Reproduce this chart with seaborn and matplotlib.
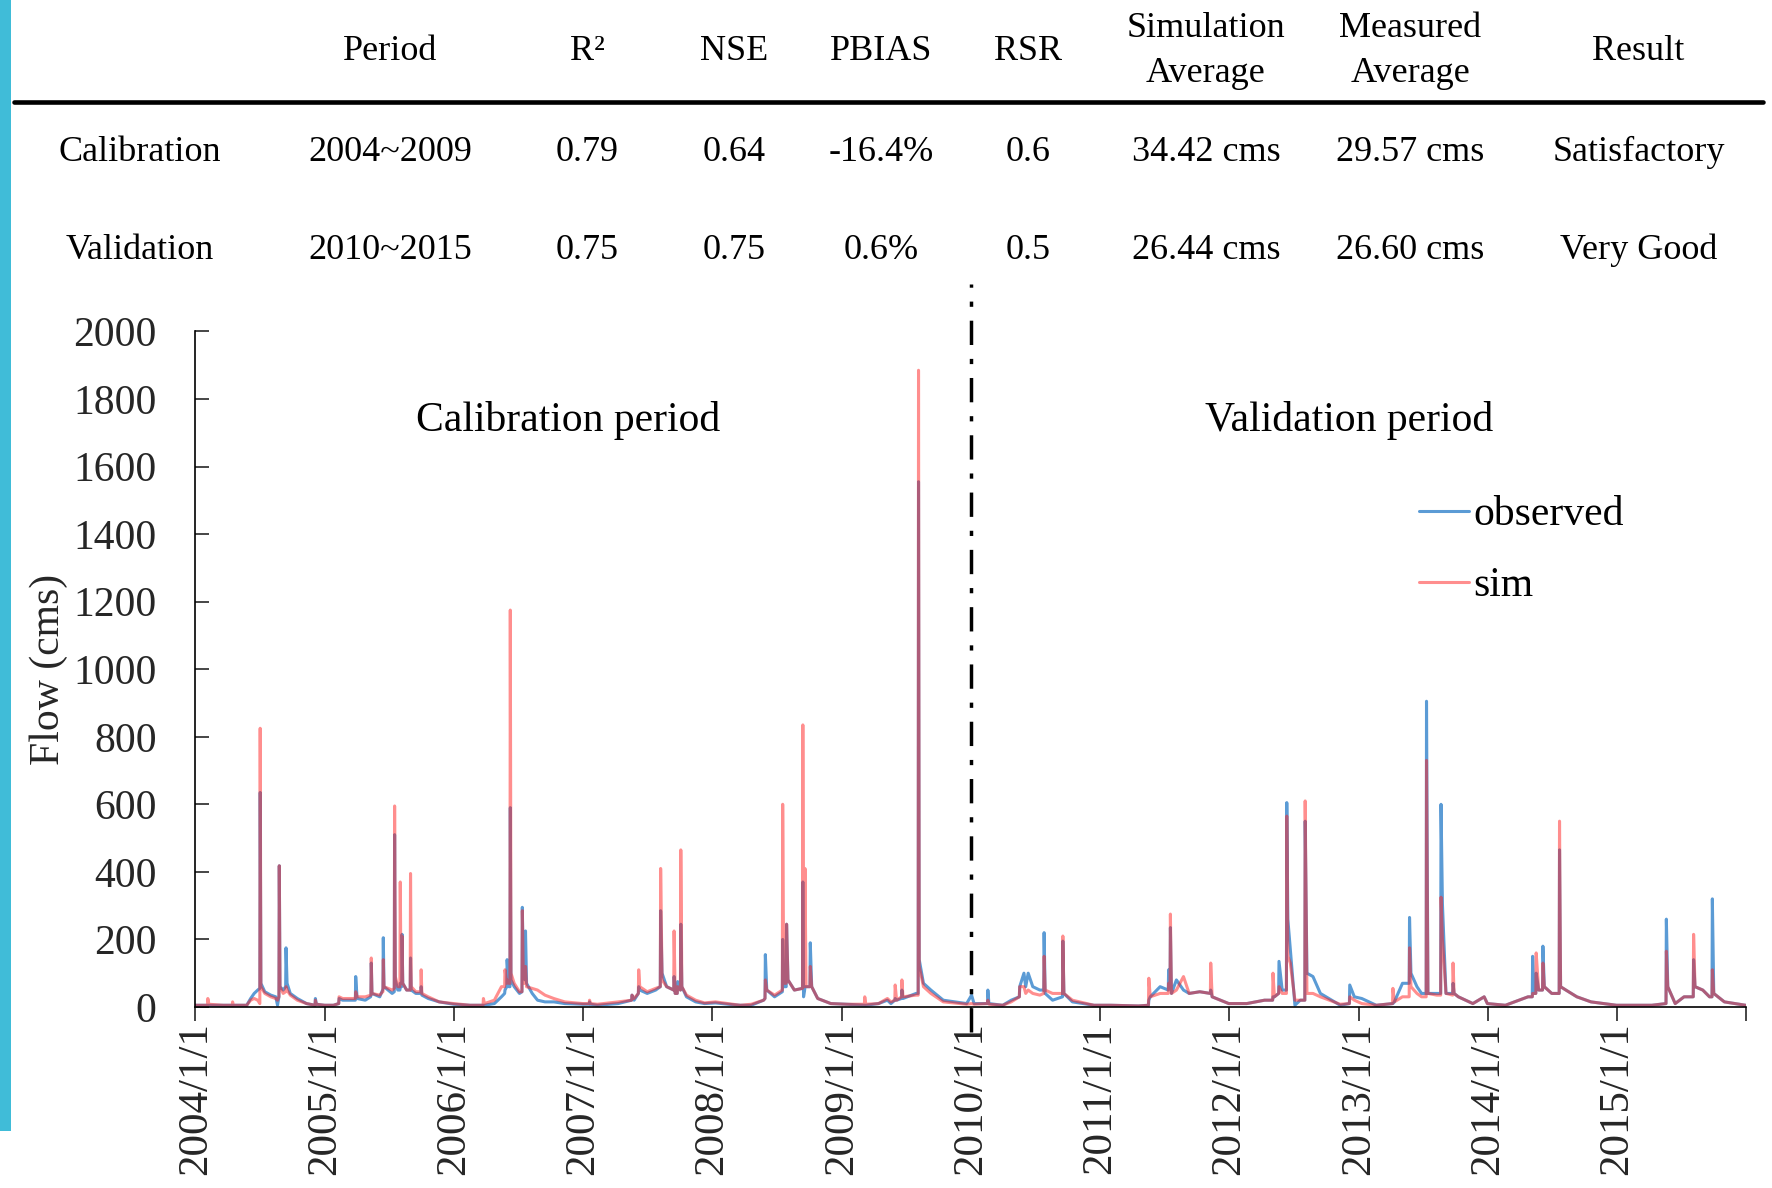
"""
Observed vs simulated daily flow, 2004-2015, with calibration / validation
statistics table above the hydrograph.
"""

import pandas as pd
import matplotlib.pyplot as plt
import matplotlib.ticker as mticker
from matplotlib.patches import Rectangle
import seaborn as sns

# ---------------------------------------------------------------------------
# Data - one line per year, lists aligned
# ---------------------------------------------------------------------------
DATES = [
    # 2004
    "2004-01-01", "2004-02-04", "2004-02-05", "2004-02-08", "2004-03-20", "2004-04-14",
    "2004-04-15", "2004-04-17", "2004-05-25", "2004-06-05", "2004-06-15", "2004-06-25",
    "2004-07-01", "2004-07-02", "2004-07-04", "2004-07-15", "2004-08-01", "2004-08-15",
    "2004-08-20", "2004-08-24", "2004-08-25", "2004-08-27", "2004-09-05", "2004-09-12",
    "2004-09-13", "2004-09-16", "2004-09-25", "2004-10-15", "2004-11-10", "2004-12-04",
    "2004-12-05", "2004-12-08", "2004-12-31",
    # 2005
    "2005-01-25", "2005-02-09", "2005-02-10", "2005-02-20", "2005-03-25", "2005-03-28",
    "2005-03-29", "2005-04-02", "2005-04-25", "2005-05-10", "2005-05-11", "2005-05-12",
    "2005-05-14", "2005-06-05", "2005-06-13", "2005-06-14", "2005-06-15", "2005-06-17",
    "2005-07-10", "2005-07-16", "2005-07-17", "2005-07-19", "2005-07-26", "2005-08-01",
    "2005-08-02", "2005-08-04", "2005-08-06", "2005-08-07", "2005-08-09", "2005-08-20",
    "2005-08-30", "2005-08-31", "2005-09-02", "2005-09-15", "2005-09-29", "2005-09-30",
    "2005-10-02", "2005-10-20", "2005-11-20", "2005-12-31",
    # 2006
    "2006-02-15", "2006-03-24", "2006-03-25", "2006-03-28", "2006-04-25", "2006-05-15",
    "2006-05-24", "2006-05-25", "2006-05-30", "2006-05-31", "2006-06-05", "2006-06-08",
    "2006-06-09", "2006-06-11", "2006-06-20", "2006-07-05", "2006-07-12", "2006-07-13",
    "2006-07-16", "2006-07-21", "2006-07-22", "2006-07-25", "2006-08-10", "2006-08-25",
    "2006-09-15", "2006-10-10", "2006-11-10", "2006-12-31",
    # 2007
    "2007-01-18", "2007-01-19", "2007-01-22", "2007-02-10", "2007-04-10", "2007-05-18",
    "2007-05-19", "2007-05-25", "2007-06-06", "2007-06-07", "2007-06-10", "2007-07-01",
    "2007-07-25", "2007-08-07", "2007-08-08", "2007-08-12", "2007-08-25", "2007-09-14",
    "2007-09-15", "2007-09-18", "2007-09-24", "2007-09-25", "2007-10-03", "2007-10-04",
    "2007-10-07", "2007-10-20", "2007-11-15", "2007-12-10",
    # 2008
    "2008-01-10", "2008-02-15", "2008-03-20", "2008-04-20", "2008-05-25", "2008-05-29",
    "2008-05-30", "2008-06-03", "2008-06-25", "2008-07-10", "2008-07-17", "2008-07-18",
    "2008-07-21", "2008-07-28", "2008-07-29", "2008-08-02", "2008-08-20", "2008-09-12",
    "2008-09-13", "2008-09-15", "2008-09-18", "2008-09-19", "2008-09-22", "2008-10-03",
    "2008-10-04", "2008-10-08", "2008-10-25", "2008-12-01",
    # 2009
    "2009-01-15", "2009-03-06", "2009-03-07", "2009-03-10", "2009-04-15", "2009-05-10",
    "2009-05-20", "2009-05-31", "2009-06-01", "2009-06-05", "2009-06-19", "2009-06-20",
    "2009-06-23", "2009-07-30", "2009-08-05", "2009-08-06", "2009-08-08", "2009-08-20",
    "2009-09-10", "2009-10-15", "2009-12-20",
    # 2010
    "2010-01-03", "2010-01-10", "2010-02-17", "2010-02-18", "2010-02-21", "2010-04-01",
    "2010-04-25", "2010-05-18", "2010-05-19", "2010-05-31", "2010-06-05", "2010-06-12",
    "2010-06-25", "2010-07-15", "2010-07-26", "2010-07-27", "2010-07-30", "2010-08-20",
    "2010-09-17", "2010-09-18", "2010-09-21", "2010-10-15", "2010-12-15",
    # 2011
    "2011-02-01", "2011-04-20", "2011-05-18", "2011-05-19", "2011-05-23", "2011-06-20",
    "2011-07-13", "2011-07-14", "2011-07-18", "2011-07-19", "2011-07-22", "2011-08-05",
    "2011-08-25", "2011-09-10", "2011-10-10", "2011-11-09", "2011-11-10", "2011-11-14",
    "2011-12-31",
    # 2012
    "2012-02-20", "2012-04-10", "2012-05-03", "2012-05-04", "2012-05-08", "2012-05-20",
    "2012-05-21", "2012-05-30", "2012-06-11", "2012-06-12", "2012-06-15", "2012-06-22",
    "2012-07-05", "2012-07-20", "2012-08-02", "2012-08-03", "2012-08-08", "2012-08-25",
    "2012-09-15", "2012-11-10", "2012-12-06", "2012-12-07", "2012-12-20",
    # 2013
    "2013-01-10", "2013-02-20", "2013-04-07", "2013-04-08", "2013-04-12", "2013-05-05",
    "2013-05-24", "2013-05-25", "2013-05-29", "2013-06-15", "2013-06-28", "2013-07-11",
    "2013-07-12", "2013-07-16", "2013-08-10", "2013-08-21", "2013-08-22", "2013-08-26",
    "2013-09-05", "2013-09-24", "2013-09-25", "2013-09-28", "2013-10-10", "2013-11-20",
    "2013-12-22", "2013-12-31",
    # 2014
    "2014-02-20", "2014-04-25", "2014-05-07", "2014-05-08", "2014-05-11", "2014-05-17",
    "2014-05-18", "2014-05-25", "2014-06-05", "2014-06-06", "2014-06-10", "2014-07-01",
    "2014-07-22", "2014-07-23", "2014-07-26", "2014-08-10", "2014-09-10", "2014-10-20",
    "2014-12-31",
    # 2015
    "2015-04-10", "2015-05-20", "2015-05-21", "2015-05-25", "2015-06-15", "2015-07-10",
    "2015-08-05", "2015-08-06", "2015-08-10", "2015-09-01", "2015-09-20", "2015-09-27",
    "2015-09-28", "2015-10-02", "2015-11-01", "2015-12-31",
]

OBSERVED = [
    # 2004
    5, 5, 5, 5, 5, 5, 3, 5, 5, 25, 40, 50, 55, 635, 70, 45, 35, 30, 5, 30,
    418, 60, 50, 60, 175, 70, 40, 25, 10, 5, 25, 8, 5,
    # 2005
    5, 10, 25, 20, 20, 20, 90, 25, 20, 30, 35, 130, 40, 30, 50, 55, 205, 60, 40, 45,
    510, 80, 50, 50, 70, 60, 60, 215, 70, 50, 50, 145, 50, 40, 40, 60, 35, 25, 15, 8,
    # 2006
    5, 5, 5, 5, 10, 30, 40, 50, 60, 140, 60, 60, 590, 80, 60, 40, 45, 295, 90, 80,
    225, 70, 40, 20, 15, 15, 10, 8,
    # 2007
    8, 15, 8, 5, 10, 20, 35, 20, 40, 60, 50, 40, 50, 60, 285, 100, 60, 50, 90, 40,
    40, 75, 50, 245, 60, 30, 15, 10,
    # 2008
    12, 8, 5, 5, 20, 25, 155, 50, 30, 40, 45, 200, 60, 60, 245, 80, 50, 55, 370, 30,
    50, 60, 60, 60, 190, 60, 25, 10,
    # 2009
    8, 5, 5, 5, 10, 20, 10, 20, 25, 20, 25, 50, 25, 40, 40, 1555, 140, 70, 50, 20,
    10,
    # 2010
    35, 10, 10, 50, 10, 5, 20, 30, 60, 100, 60, 100, 60, 50, 50, 220, 40, 20, 30, 195,
    40, 15, 5,
    # 2011
    5, 3, 5, 20, 30, 60, 50, 110, 60, 235, 40, 80, 50, 40, 45, 40, 50, 30, 10,
    # 2012
    10, 20, 20, 30, 30, 40, 135, 50, 50, 605, 260, 170, 5, 20, 20, 550, 100, 90, 40, 5,
    10, 65, 30,
    # 2013
    25, 5, 10, 10, 15, 70, 70, 265, 100, 60, 40, 40, 905, 40, 40, 40, 600, 305, 40, 40,
    70, 40, 30, 10, 30, 10,
    # 2014
    5, 30, 30, 150, 40, 40, 100, 50, 50, 180, 60, 40, 40, 465, 60, 50, 30, 15, 5,
    # 2015
    5, 10, 260, 60, 10, 30, 30, 140, 60, 50, 30, 30, 320, 40, 15, 5,
]

SIM = [
    # 2004
    5, 5, 25, 8, 5, 5, 15, 5, 5, 20, 25, 20, 10, 825, 60, 40, 30, 25, 20, 30,
    418, 60, 40, 45, 60, 50, 35, 20, 10, 5, 20, 8, 5,
    # 2005
    5, 10, 30, 25, 25, 25, 45, 30, 30, 35, 35, 145, 40, 35, 45, 45, 140, 60, 50, 55,
    595, 90, 60, 60, 370, 80, 70, 210, 70, 50, 50, 395, 60, 45, 45, 110, 40, 30, 15, 10,
    # 2006
    5, 5, 25, 10, 20, 60, 60, 110, 70, 80, 70, 70, 1175, 100, 70, 45, 45, 285, 70, 70,
    120, 60, 55, 50, 35, 25, 15, 10,
    # 2007
    10, 20, 10, 8, 15, 20, 35, 25, 40, 110, 60, 45, 55, 60, 410, 80, 60, 50, 225, 40,
    40, 60, 50, 465, 60, 35, 20, 12,
    # 2008
    15, 10, 5, 8, 20, 25, 80, 50, 35, 45, 50, 600, 70, 70, 245, 80, 50, 55, 835, 60,
    60, 410, 60, 60, 120, 60, 25, 10,
    # 2009
    8, 8, 30, 8, 10, 25, 15, 20, 65, 20, 30, 80, 30, 35, 35, 1885, 120, 60, 40, 15,
    8,
    # 2010
    10, 8, 10, 20, 8, 5, 15, 30, 60, 60, 40, 50, 40, 35, 40, 150, 50, 40, 40, 210,
    40, 20, 5,
    # 2011
    5, 3, 5, 85, 30, 40, 40, 70, 50, 275, 40, 50, 90, 40, 45, 40, 130, 30, 10,
    # 2012
    10, 20, 20, 100, 30, 40, 60, 40, 40, 565, 150, 130, 20, 20, 20, 610, 40, 40, 30, 8,
    10, 30, 20,
    # 2013
    10, 5, 10, 55, 15, 30, 30, 175, 60, 40, 30, 30, 730, 40, 35, 35, 325, 200, 40, 35,
    130, 40, 30, 10, 30, 10,
    # 2014
    5, 30, 30, 40, 40, 40, 160, 50, 50, 130, 60, 40, 40, 550, 60, 50, 30, 15, 5,
    # 2015
    5, 10, 165, 60, 10, 30, 30, 215, 60, 50, 30, 30, 110, 40, 15, 5,
]

assert len(DATES) == len(OBSERVED) == len(SIM)

# statistics table
TABLE_HEADER = ["", "Period", "R²", "NSE", "PBIAS", "RSR",
                "Simulation\nAverage", "Measured\nAverage", "Result"]
TABLE_ROWS = [
    ["Calibration", "2004~2009", "0.79", "0.64", "-16.4%", "0.6",
     "34.42 cms", "29.57 cms", "Satisfactory"],
    ["Validation", "2010~2015", "0.75", "0.75", "0.6%", "0.5",
     "26.44 cms", "26.60 cms", "Very Good"],
]
TICK_YEARS = list(range(2004, 2017))
SPLIT_DATE = "2010-01-01"

# ---------------------------------------------------------------------------
# Style
# ---------------------------------------------------------------------------
sns.set_theme(style="white")
plt.rcParams["font.family"] = ["Liberation Serif", "DejaVu Serif"]
plt.rcParams["text.color"] = "black"

BLUE = "#5B9BD5"
RED = "#FF1F1F"
CYAN = "#40BCD8"

fig = plt.figure(figsize=(17.72, 11.88), dpi=100)
fig.patches.append(Rectangle((0, 0.0476), 0.0064, 0.9524, transform=fig.transFigure,
                             facecolor=CYAN, edgecolor="none"))

# ---------------------------------------------------------------------------
# Table (plain text on the figure)
# ---------------------------------------------------------------------------
col_x = [0.0791, 0.2200, 0.3316, 0.4145, 0.4974, 0.5804, 0.6805, 0.7959, 0.9247]
for x, txt in zip(col_x, TABLE_HEADER):
    fig.text(x, 0.957, txt, ha="center", va="center", fontsize=26, linespacing=1.45)
fig.add_artist(plt.Line2D([0.0077, 0.995], [0.9143, 0.9143], color="black",
                          lw=3.3, transform=fig.transFigure))
for y, row in zip([0.8714, 0.7895], TABLE_ROWS):
    for x, txt in zip(col_x, row):
        fig.text(x, y, txt, ha="center", va="center", fontsize=26)

# ---------------------------------------------------------------------------
# Hydrograph
# ---------------------------------------------------------------------------
df = pd.DataFrame({"date": pd.to_datetime(DATES), "observed": OBSERVED, "sim": SIM})

ax = fig.add_axes([0.1103, 0.1524, 0.875, 0.5686])
sns.lineplot(data=df, x="date", y="observed", color=BLUE, lw=2.2, ax=ax, label="observed")
sns.lineplot(data=df, x="date", y="sim", color=RED, lw=2.2, alpha=0.5, ax=ax, label="sim")

ax.set_ylim(0, 2000)
ax.set_xlim(pd.Timestamp("2004-01-01"), pd.Timestamp("2016-01-01"))
ax.yaxis.set_major_locator(mticker.MultipleLocator(200))

ticks = [pd.Timestamp(f"{y}-01-01") for y in TICK_YEARS]
ax.set_xticks(ticks)
ax.set_xticklabels([f"{t.year}/{t.month}/{t.day}" if t.year < 2016 else "" for t in ticks],
                   rotation=90)

ax.tick_params(axis="y", direction="in", length=10, width=1.2, pad=28, labelsize=30,
               left=True)
ax.tick_params(axis="x", direction="out", length=10, width=1.2, pad=1, labelsize=31,
               bottom=True)
ax.set_xlabel("")
ax.set_ylabel("Flow (cms)", fontsize=30)
ax.yaxis.set_label_coords(-0.082, 0.5)

for side in ["top", "right"]:
    ax.spines[side].set_visible(False)
for side in ["left", "bottom"]:
    ax.spines[side].set_color("black")
    ax.spines[side].set_linewidth(1.2)

# calibration / validation split
ax.axvline(pd.Timestamp(SPLIT_DATE), ymin=-0.037, ymax=1.07, color="black", lw=2.5,
           linestyle=(0, (7, 4, 1.5, 4)), clip_on=False, zorder=5)

ax.text(0.2405, 0.868, "Calibration period", transform=ax.transAxes,
        ha="center", va="center", fontsize=30)
ax.text(0.744, 0.868, "Validation period", transform=ax.transAxes,
        ha="center", va="center", fontsize=30)

ax.legend(loc="upper left", bbox_to_anchor=(0.789, 0.757), frameon=False,
          fontsize=30, handlelength=1.2, handletextpad=0.1, labelspacing=0.78,
          borderpad=0, borderaxespad=0)

fig.savefig("out.png", dpi=100)
